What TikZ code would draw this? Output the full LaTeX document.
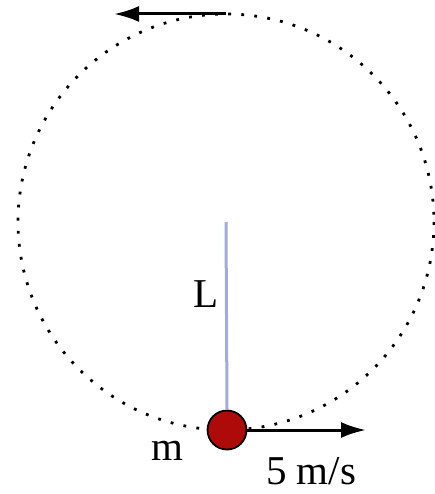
\documentclass[tikz,border=0pt]{standalone}
\usepackage{fontspec}
\setmainfont{Liberation Serif}
\usetikzlibrary{arrows.meta}

\definecolor{rodblue}{RGB}{160,172,218}
\definecolor{massred}{RGB}{175,10,10}

\begin{document}
\begin{tikzpicture}[x=1pt, y=-1pt,
    >={Latex[length=25pt,width=16pt]},
    orbit/.style={line width=2.8pt, dash pattern=on 2.8pt off 10.3pt},
    rod/.style={draw=rodblue, line width=3pt},
    vel/.style={line width=3pt},
    mass/.style={circle, draw, line width=1.8pt, fill=massred, minimum size=39pt, inner sep=0pt},
    lbl/.style={font=\fontsize{41}{48}\selectfont, inner sep=0pt}]
        \useasboundingbox (0,0) rectangle (434,494);

        \coordinate (o) at (226,222);
        \coordinate (top) at (226,14);
        \coordinate (tip) at (114,14);

        \draw[orbit] (o) circle[radius=208];
        \node[mass] (m) at (227,430) {};
        \coordinate (vend) at (366,430);

        \draw[rod] (o) -- (m.north);
        \draw[vel, ->] (top) -- (tip);
        \draw[vel, ->] (m) -- (vend);

        \node[lbl] (lL) at (206,294) {L};
        \node[lbl] (lm) at (167,451) {m};
        \node[lbl] (lv) at (311,471) {5 m/s};
\end{tikzpicture}
\end{document}
